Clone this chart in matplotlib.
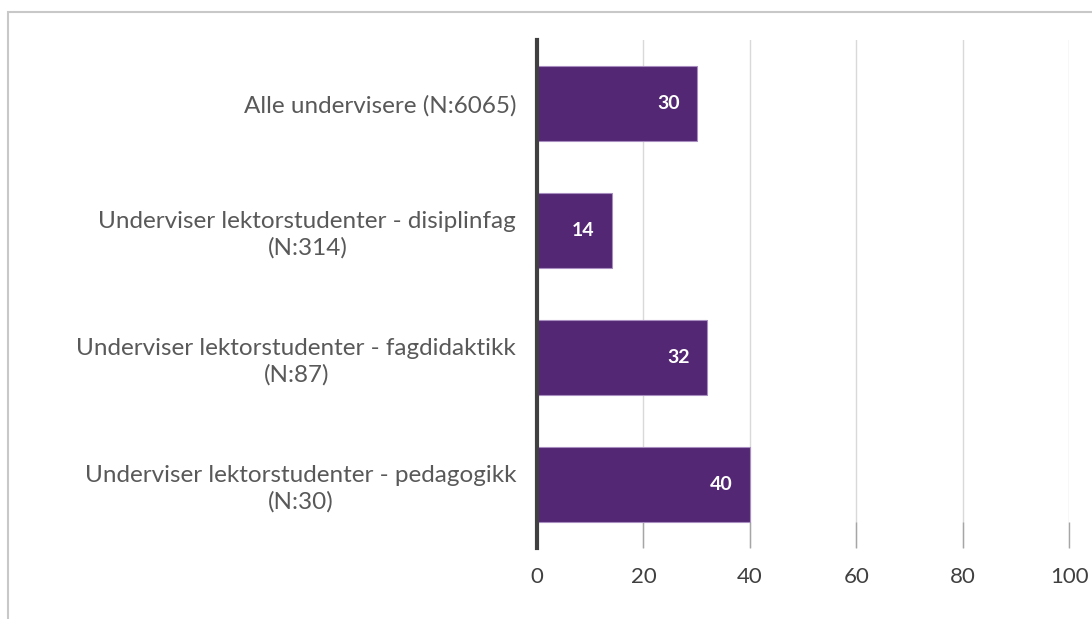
import matplotlib.pyplot as plt
from matplotlib.patches import Rectangle

categories = ['Alle undervisere (N:6065)',
              'Underviser lektorstudenter - disiplinfag\n(N:314)',
              'Underviser lektorstudenter - fagdidaktikk\n(N:87)',
              'Underviser lektorstudenter - pedagogikk\n(N:30)']
values = [30, 14, 32, 40]
xticks = [0, 20, 40, 60, 80, 100]

plt.rcParams['font.family'] = ['Lato', 'DejaVu Sans']

fig = plt.figure(figsize=(10.92, 6.19), dpi=100)
ax = fig.add_axes([0.4918, 0.1147, 0.979 - 0.4918, 0.9354 - 0.1147])

pos = list(range(len(categories)))
bars = ax.barh(pos, values, height=0.59, color='#532773', edgecolor='#a88dc0', linewidth=0.8, zorder=3)
for b, v in zip(bars, values):
    ax.text(b.get_width() - 3.2, b.get_y() + b.get_height() / 2, str(v),
            ha='right', va='center', color='white', fontsize=14, fontweight='bold', zorder=4)

ax.set_xlim(0, 100)
ax.set_ylim(len(categories) - 0.5, -0.5)
ax.set_xticks(xticks)
ax.set_xticklabels([str(t) for t in xticks], fontsize=16, color='#404040')
ax.set_yticks(pos)
ax.set_yticklabels(categories, fontsize=17.5, color='#595959', multialignment='center', linespacing=1.3)
ax.tick_params(axis='y', length=0, pad=15)
ax.tick_params(axis='x', direction='in', length=19, width=1, color='#a6a6a6', pad=13.5)
ax.grid(axis='x', color='#d9d9d9', linewidth=1, zorder=0)
ax.set_axisbelow(True)
for s in ['top', 'right', 'bottom']:
    ax.spines[s].set_visible(False)
ax.spines['left'].set_color('#404040')
ax.spines['left'].set_linewidth(3)
ax.spines['left'].set_zorder(5)

# outer chart border
fig.patches.append(Rectangle((8 / 1092, -0.1), 1.2, 1 - 12 / 619 + 0.1, transform=fig.transFigure,
                             fill=False, edgecolor='#c8c8c8', linewidth=1.5))

fig.savefig('out.png', dpi=100)
